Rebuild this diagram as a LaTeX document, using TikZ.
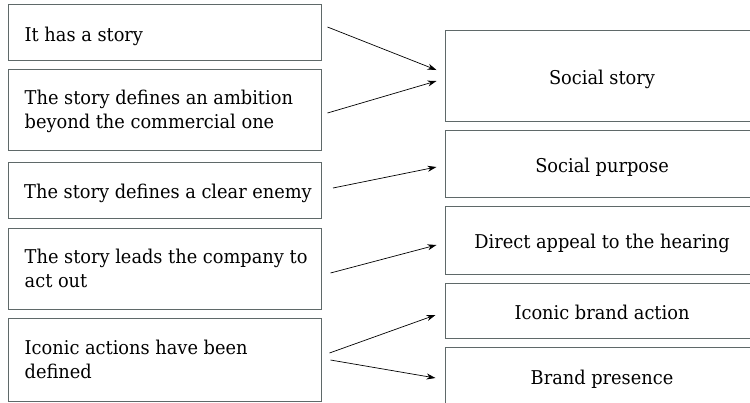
\documentclass[tikz,border=0pt]{standalone}
\usepackage{fontspec}
\setmainfont[FakeStretch=1.04]{DejaVu Serif Condensed}
\usetikzlibrary{arrows.meta,calc}
\definecolor{boxgray}{RGB}{95,105,105}
\begin{document}
\begin{tikzpicture}[x=1pt,y=-1pt,
  box/.style={draw=boxgray,line width=1pt,minimum width=#1,inner sep=0pt},
  lbox/.style={box=313pt},
  rbox/.style={box=314pt,font=\fontsize{19}{24}\selectfont,text height=19.8pt,text depth=2.2pt},
  ltext/.style={anchor=west,align=left,inner sep=0pt,font=\fontsize{19}{24}\selectfont},
  arr/.style={line width=0.7pt,-{Stealth[length=9pt,width=6pt]}}]
\useasboundingbox (0,0) rectangle (750,402);
\clip (0,0) rectangle (750,402);
% left boxes
\node[lbox,minimum height=56pt] (l1) at (164.5,32) {};
\node[lbox,minimum height=81pt] (l2) at (164.5,109.5) {};
\node[lbox,minimum height=56pt] (l3) at (165,190) {};
\node[lbox,minimum height=81pt] (l4) at (164.5,268.5) {};
\node[lbox,minimum height=83pt] (l5) at (164.5,359.5) {};
\node[ltext] (t1) at ([xshift=17pt,yshift=-4.7pt]l1.west) {It has a story};
\node[ltext] (t2) at ([xshift=17pt,yshift=-1.9pt]l2.west) {The story defines an ambition\\beyond the commercial one};
\node[ltext] (t3) at ([xshift=16pt,yshift=-3.4pt]l3.west) {The story defines a clear enemy};
\node[ltext] (t4) at ([xshift=17pt,yshift=0.4pt]l4.west) {The story leads the company to\\act out};
\node[ltext] (t5) at ([xshift=17pt,yshift=0.4pt]l5.west) {Iconic actions have been\\defined};
% right boxes
\node[rbox,minimum height=91pt] (r1) at (602,75.5) {Social story};
\node[rbox,minimum height=67pt] (r2) at (602,163.5) {Social purpose};
\node[rbox,minimum height=68pt] (r3) at (602,240) {Direct appeal to the hearing};
\node[rbox,minimum height=55pt] (r4) at (602,310.5) {Iconic brand action};
\node[rbox,minimum height=56.4pt] (r5) at (602,375.2) {Brand presence};
% arrows
\draw[arr] ([xshift=6pt,yshift=5pt]l1.east) -- ([xshift=-8pt,yshift=5.5pt]r1.west);
\draw[arr] ([xshift=6pt,yshift=-3.5pt]l2.east) -- ([xshift=-8pt,yshift=-5.5pt]r1.west);
\draw[arr] ([xshift=11pt,yshift=2pt]l3.east) -- ([xshift=-8pt,yshift=-3.5pt]r2.west);
\draw[arr] ([xshift=9pt,yshift=-4.5pt]l4.east) -- ([xshift=-8pt,yshift=-5pt]r3.west);
\draw[arr] ([xshift=8pt,yshift=6.5pt]l5.east) -- ([xshift=-9pt,yshift=-4.5pt]r4.west);
\draw[arr] ([xshift=9pt,yshift=-0.5pt]l5.east) -- ([xshift=-9pt,yshift=-2.8pt]r5.west);
\end{tikzpicture}
\end{document}
